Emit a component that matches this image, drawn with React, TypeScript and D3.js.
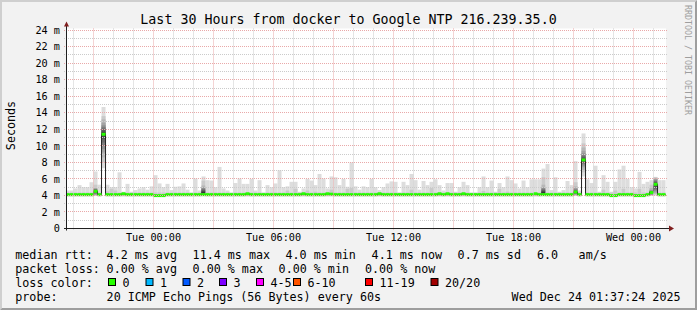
import React from "react";
import * as d3 from "d3";

// ---------------- data ----------------
const chartTitle = "Last 30 Hours from docker to Google NTP 216.239.35.0";
const yAxisLabel = "Seconds";
const watermark = "RRDTOOL / TOBI OETIKER";

const startTime = Date.UTC(2025, 11, 22, 19, 37, 24);
const endTime = Date.UTC(2025, 11, 24, 1, 37, 24);
const firstBinStart = Date.UTC(2025, 11, 22, 19, 36, 0);
const binMinutes = 12;
const yMax = 24.2;

const yTickValues = [0, 2, 4, 6, 8, 10, 12, 14, 16, 18, 20, 22, 24];
const yTickLabels = ["0", "2 m", "4 m", "6 m", "8 m", "10 m", "12 m", "14 m", "16 m", "18 m", "20 m", "22 m", "24 m"];

const xTickTimes = [
  Date.UTC(2025, 11, 23, 0),
  Date.UTC(2025, 11, 23, 6),
  Date.UTC(2025, 11, 23, 12),
  Date.UTC(2025, 11, 23, 18),
  Date.UTC(2025, 11, 24, 0),
];
const xTickLabels = ["Tue 00:00", "Tue 06:00", "Tue 12:00", "Tue 18:00", "Wed 00:00"];

// median rtt per 12-minute bin (ms)
const medianRtt = [
  4.1, 4.1, 4.1, 4.1, 4.1, 4.1, 4.1, 4.5, 4.1, 11.4,
  4.1, 4.1, 4.1, 4.1, 4.2, 4.1, 4.1, 4.1, 4.1, 4.1,
  4.1, 4.1, 3.98, 3.98, 3.98, 4.1, 4.1, 4.1, 4.1, 4.1,
  4.1, 4.1, 4.1, 4.1, 4.1, 4.1, 4.1, 4.1, 4.1, 4.1,
  4.1, 4.1, 4.1, 4.1, 4.1, 4.2, 4.1, 4.1, 4.1, 4.1,
  4.1, 4.1, 4.1, 4.1, 4.1, 4.1, 4.1, 4.1, 4.1, 4.2,
  4.1, 4.1, 4.1, 4.1, 4.1, 4.2, 4.15, 4.1, 4.1, 4.1,
  4.1, 4.1, 4.1, 4.1, 4.1, 4.1, 4.1, 4.1, 4.2, 4.1,
  4.1, 4.1, 4.1, 4.1, 4.1, 4.1, 4.1, 4.1, 4.1, 4.1,
  4.1, 4.1, 4.1, 4.2, 4.1, 4.2, 4.1, 4.1, 4.1, 4.2,
  4.1, 4.1, 4.1, 4.1, 4.1, 4.1, 4.1, 4.1, 4.1, 4.1,
  4.1, 4.1, 4.1, 4.1, 4.1, 4.1, 4.1, 4.2, 4.1, 4.1,
  4.1, 4.1, 4.1, 4.1, 4.1, 4.1, 4.1, 4.42, 4.1, 8.3,
  4.1, 4.1, 4.1, 4.1, 4.1, 4.1, 3.98, 3.98, 4.1, 4.1,
  4.1, 4.1, 3.98, 3.98, 3.98, 4.1, 4.35, 5.35, 4.1, 4.1,
];

// slowest ping per bin (ms)
const smokeMax = [
  4.6, 4.6, 4.85, 5.25, 5.0, 5.0, 5.6, 6.9, 5.3, 14.7,
  5.3, 5.0, 5.0, 6.8, 4.45, 5.4, 4.45, 4.65, 4.85, 5.0,
  4.7, 5.1, 6.45, 5.45, 5.0, 5.4, 4.65, 5.05, 5.1, 5.45,
  4.7, 4.3, 6.05, 4.6, 6.3, 5.85, 5.8, 5.0, 7.45, 4.85,
  4.6, 4.2, 5.5, 6.05, 5.4, 5.4, 6.0, 4.6, 5.85, 4.25,
  5.25, 5.0, 5.45, 7.05, 5.0, 5.1, 5.65, 5.65, 4.45, 4.85,
  6.0, 5.8, 5.25, 6.6, 6.05, 4.85, 6.3, 6.2, 5.25, 6.0,
  5.05, 8.0, 5.1, 4.7, 5.1, 5.0, 6.0, 5.0, 4.65, 5.0,
  5.45, 5.7, 5.65, 4.1, 5.65, 5.25, 6.6, 5.85, 4.7, 5.75,
  5.25, 5.65, 5.95, 5.25, 4.6, 5.5, 5.5, 4.45, 5.0, 5.65,
  5.25, 4.2, 4.1, 5.0, 6.3, 5.0, 5.8, 4.45, 5.5, 5.0,
  6.3, 5.85, 5.45, 4.85, 5.8, 5.0, 5.95, 5.95, 5.95, 7.25,
  7.8, 4.65, 6.2, 4.45, 4.65, 5.75, 5.25, 8.15, 4.6, 11.5,
  5.95, 5.5, 7.6, 4.45, 6.45, 5.65, 4.45, 5.65, 7.15, 7.6,
  6.0, 5.0, 4.85, 6.85, 5.4, 5.65, 5.85, 6.25, 5.85, 5.85,
];

// second slowest ping per bin (ms)
const smokeSecond = [
  4.35, 4.35, 4.35, 4.35, 4.35, 4.35, 4.35, 4.35, 4.35, 4.35,
  4.5, 4.8, 4.6, 4.35, 4.35, 4.35, 4.35, 4.35, 4.35, 4.35,
  4.35, 4.35, 4.35, 4.35, 4.35, 4.35, 4.35, 4.35, 4.35, 4.35,
  4.35, 4.35, 4.35, 4.35, 4.9, 4.35, 4.35, 4.35, 4.35, 4.35,
  4.35, 4.35, 4.35, 4.35, 4.35, 4.35, 4.35, 4.35, 4.35, 4.35,
  4.35, 4.35, 4.35, 4.35, 4.35, 4.6, 4.35, 4.8, 4.35, 4.35,
  4.6, 4.35, 4.45, 4.35, 4.35, 4.35, 4.7, 4.35, 4.35, 4.35,
  4.8, 4.9, 4.35, 4.35, 4.35, 4.35, 4.35, 4.35, 4.35, 4.35,
  4.35, 4.35, 4.35, 4.35, 4.35, 4.35, 4.7, 4.35, 4.35, 4.35,
  4.35, 4.9, 4.35, 4.35, 4.35, 4.35, 4.35, 4.35, 4.35, 4.35,
  4.35, 4.35, 4.35, 4.35, 4.55, 4.35, 4.35, 4.35, 4.8, 4.35,
  4.45, 4.35, 4.35, 4.35, 4.35, 4.35, 4.35, 4.35, 4.35, 5.0,
  4.35, 4.35, 4.35, 4.35, 4.35, 4.35, 4.35, 4.35, 4.35, 4.35,
  4.35, 4.35, 4.35, 4.35, 4.7, 4.35, 4.35, 4.6, 4.35, 4.8,
  4.35, 4.35, 4.35, 4.8, 4.35, 4.35, 4.35, 4.35, 4.35, 4.35,
];

const smokeFloor = 3.9;

// bins where the full 20-ping spread is visible (sorted pings, ms)
const detailedBins = [7, 9, 34, 119, 127, 129, 146, 147];
const detailedPings = [
  [3.95, 4.0, 4.05, 4.1, 4.15, 4.2, 4.3, 4.4, 4.45, 4.5, 4.55, 4.6, 4.65, 4.7, 4.75, 4.8, 4.85, 4.9, 5.3, 6.9],
  [7.3, 8.0, 8.6, 9.2, 9.6, 10.0, 10.4, 10.8, 11.1, 11.3, 11.5, 11.7, 11.9, 12.1, 12.3, 12.5, 12.8, 13.2, 13.6, 14.7],
  [3.9, 3.95, 4.0, 4.05, 4.1, 4.1, 4.15, 4.2, 4.25, 4.3, 4.4, 4.5, 4.6, 4.7, 4.8, 4.9, 5.0, 5.2, 5.8, 6.3],
  [3.9, 3.95, 4.0, 4.05, 4.1, 4.1, 4.15, 4.2, 4.25, 4.3, 4.4, 4.5, 4.6, 4.7, 4.8, 4.9, 5.0, 5.3, 6.2, 7.25],
  [3.95, 4.0, 4.05, 4.1, 4.15, 4.2, 4.25, 4.3, 4.35, 4.4, 4.45, 4.5, 4.55, 4.6, 4.7, 4.8, 4.9, 5.1, 5.6, 8.15],
  [6.3, 6.8, 7.1, 7.4, 7.6, 7.8, 7.95, 8.1, 8.2, 8.3, 8.35, 8.45, 8.6, 8.75, 8.9, 9.1, 9.4, 9.8, 10.3, 11.5],
  [3.95, 4.0, 4.05, 4.1, 4.12, 4.15, 4.2, 4.25, 4.28, 4.32, 4.36, 4.4, 4.45, 4.5, 4.55, 4.6, 4.7, 4.9, 5.3, 5.85],
  [4.0, 4.1, 4.2, 4.35, 4.5, 4.65, 4.8, 4.95, 5.1, 5.3, 5.4, 5.5, 5.6, 5.7, 5.8, 5.9, 6.0, 6.1, 6.2, 6.25],
];

// legend
const legendRowTitles = ["median rtt:", "packet loss:", "loss color:", "probe:"];
const rttItems = ["4.2 ms avg", "11.4 ms max", "4.0 ms min", "4.1 ms now", "0.7 ms sd", "6.0", "am/s"];
const lossItems = ["0.00 % avg", "0.00 % max", "0.00 % min", "0.00 % now"];
const lossColorLabels = ["0", "1", "2", "3", "4-5", "6-10", "11-19", "20/20"];
const lossColorValues = ["#26ff00", "#00b8ff", "#0059ff", "#7e00ff", "#ff00ff", "#ff5500", "#ff0000", "#a10000"];
const probeText = "20 ICMP Echo Pings (56 Bytes) every 60s";
const dateText = "Wed Dec 24 01:37:24 2025";

// ---------------- layout ----------------
const W = 697;
const H = 310;
const X0 = 66;
const X1 = 666;
const YB = 228.5;
const YT = 28.5;
const FONT = "'DejaVu Sans Mono', monospace";
const rttX = [106.6, 192.6, 285.5, 371.6, 457.6, 537, 578.6];
const lossX = [106.6, 192.6, 278.6, 365];
const boxX = [108, 145.5, 182.5, 219, 256, 293, 365, 430.5];
const rowY = [259.3, 273.3, 287.2, 301.1];

const shade = (i: number) => {
  const c = Math.round((190 / 10) * (10 - i)) + 50;
  return `rgb(${c},${c},${c})`;
};

export default function App() {
  const x = d3.scaleUtc().domain([new Date(startTime), new Date(endTime)]).range([X0, X1]);
  const y = d3.scaleLinear().domain([0, yMax]).range([YB, YT]);

  const bins = medianRtt.map((m, k) => {
    const t0 = firstBinStart + k * binMinutes * 60000;
    const x0 = Math.max(X0, x(new Date(t0)));
    const x1 = Math.min(X1, x(new Date(t0 + binMinutes * 60000)));
    return { k, x0, x1, med: m, max: smokeMax[k], second: smokeSecond[k] };
  });

  const smoke: React.ReactNode[] = [];
  bins.forEach((b) => {
    const di = detailedBins.indexOf(b.k);
    if (di >= 0) {
      const p = detailedPings[di];
      for (let i = 1; i <= 10; i++) {
        const lo = p[i - 1];
        const hi = p[20 - i];
        smoke.push(
          <rect key={`s${b.k}-${i}`} x={b.x0} width={b.x1 - b.x0} y={y(hi)} height={Math.max(0, y(lo) - y(hi))} fill={shade(i)} />
        );
      }
    } else {
      smoke.push(
        <rect key={`s${b.k}-1`} x={b.x0} width={b.x1 - b.x0} y={y(b.max)} height={y(smokeFloor) - y(b.max)} fill={shade(1)} />
      );
      if (b.second > smokeFloor) {
        smoke.push(
          <rect key={`s${b.k}-2`} x={b.x0} width={b.x1 - b.x0} y={y(b.second)} height={y(smokeFloor) - y(b.second)} fill={shade(2)} />
        );
      }
    }
  });

  const linePts: [number, number][] = [];
  bins.forEach((b) => {
    linePts.push([b.x0, y(b.med)]);
    linePts.push([b.x1, y(b.med)]);
  });
  const medianPath = d3.line()(linePts) || "";

  const swidth = 0.18;

  const hours = d3.utcHour.range(new Date(startTime), new Date(endTime));
  const minorV = hours.filter((h) => h.getUTCHours() % 3 !== 0);
  const majorV = hours.filter((h) => h.getUTCHours() % 3 === 0);
  const minorH = d3.range(1, 25).filter((v) => v % 2 !== 0);
  const majorH = d3.range(2, 25, 2);
  const px = (v: number) => Math.floor(v) + 0.5;

  const minorColor = "#cbcbcb";
  const majorColor = "#e9a9a9";

  return (
    <svg width={W} height={H} viewBox={`0 0 ${W} ${H}`} style={{ display: "block" }}>
      <style>{`body{margin:0}`}</style>
      <rect x={0} y={0} width={W} height={H} fill="#f2f2f2" />
      <polygon points={`0,${H} 2,${H - 2} 2,2 ${W - 2},2 ${W},0 0,0`} fill="#cfcfcf" />
      <polygon points={`2,${H - 2} ${W - 2},${H - 2} ${W - 2},2 ${W},0 ${W},${H} 0,${H}`} fill="#9e9e9e" />
      <rect x={X0} y={YT} width={X1 - X0} height={YB - YT} fill="#ffffff" />

      <g>{smoke}</g>
      <path d={medianPath} fill="none" stroke="#202020" strokeWidth={1} />
      <g>
        {bins.map((b) => (
          <rect key={`g${b.k}`} x={b.x0} width={b.x1 - b.x0} y={y(b.med + swidth)} height={y(b.med - swidth) - y(b.med + swidth)} fill={lossColorValues[0]} />
        ))}
      </g>

      {/* grid */}
      <g strokeDasharray="1,1" strokeWidth={1} fill="none">
        {minorV.map((h, i) => (
          <line key={`mv${i}`} x1={px(x(h))} x2={px(x(h))} y1={YT} y2={YB + 2} stroke={minorColor} />
        ))}
        {minorH.map((v) => (
          <line key={`mh${v}`} x1={X0 - 2} x2={X1 + 2} y1={px(y(v))} y2={px(y(v))} stroke={minorColor} />
        ))}
        {majorV.map((h, i) => (
          <line key={`Mv${i}`} x1={px(x(h))} x2={px(x(h))} y1={YT} y2={YB + 2} stroke={majorColor} />
        ))}
        {majorH.map((v) => (
          <line key={`Mh${v}`} x1={X0 - 2} x2={X1 + 2} y1={px(y(v))} y2={px(y(v))} stroke={majorColor} />
        ))}
      </g>

      {/* axes */}
      <line x1={X0 - 2} x2={X1 + 3} y1={YB} y2={YB} stroke="#1f1f1f" strokeWidth={1} />
      <line x1={X0 + 0.5} x2={X0 + 0.5} y1={YB + 2} y2={YT - 3} stroke="#1f1f1f" strokeWidth={1} />
      <polygon points={`${X1 + 3},${YB - 3} ${X1 + 8},${YB} ${X1 + 3},${YB + 3}`} fill="#801f1f" />
      <polygon points={`${X0 - 2},${YT - 2} ${X0 + 0.5},${YT - 7} ${X0 + 3},${YT - 2}`} fill="#801f1f" />

      {/* tick labels */}
      <g fontFamily={FONT} fontSize={10.2} fill="#000">
        {yTickValues.map((v, i) => (
          <text key={`yt${v}`} x={60} y={y(v) + 3.7} textAnchor="end">
            {yTickLabels[i]}
          </text>
        ))}
        {xTickTimes.map((t, i) => (
          <text key={`xt${i}`} x={x(new Date(t))} y={241} textAnchor="middle">
            {xTickLabels[i]}
          </text>
        ))}
      </g>

      {/* title & labels */}
      <text x={W / 2} y={24} textAnchor="middle" fontFamily={FONT} fontSize={13.3} fill="#000">
        {chartTitle}
      </text>
      <text transform={`translate(14.5,${(YT + YB) / 2 - 3}) rotate(-90)`} textAnchor="middle" fontFamily={FONT} fontSize={11.7} fill="#000">
        {yAxisLabel}
      </text>
      <text transform={`translate(685,5) rotate(90)`} fontFamily={FONT} fontSize={8.3} fill="#9e9e9e">
        {watermark}
      </text>

      {/* legend */}
      <g fontFamily={FONT} fontSize={11.7} fill="#000">
        {legendRowTitles.map((t, i) => (
          <text key={`lr${i}`} x={15.3} y={rowY[i]}>
            {t}
          </text>
        ))}
        {rttItems.map((t, i) => (
          <text key={`rt${i}`} x={rttX[i]} y={rowY[0]}>
            {t}
          </text>
        ))}
        {lossItems.map((t, i) => (
          <text key={`ls${i}`} x={lossX[i]} y={rowY[1]}>
            {t}
          </text>
        ))}
        {lossColorLabels.map((t, i) => (
          <g key={`lc${i}`}>
            <rect x={boxX[i] + 0.5} y={278.5} width={7} height={7} fill={lossColorValues[i]} stroke="#000" strokeWidth={1} />
            <text x={boxX[i] + 14.5} y={rowY[2]}>
              {t}
            </text>
          </g>
        ))}
        <text x={106.6} y={rowY[3]}>
          {probeText}
        </text>
        <text x={680.5} y={rowY[3]} textAnchor="end">
          {dateText}
        </text>
      </g>
    </svg>
  );
}
